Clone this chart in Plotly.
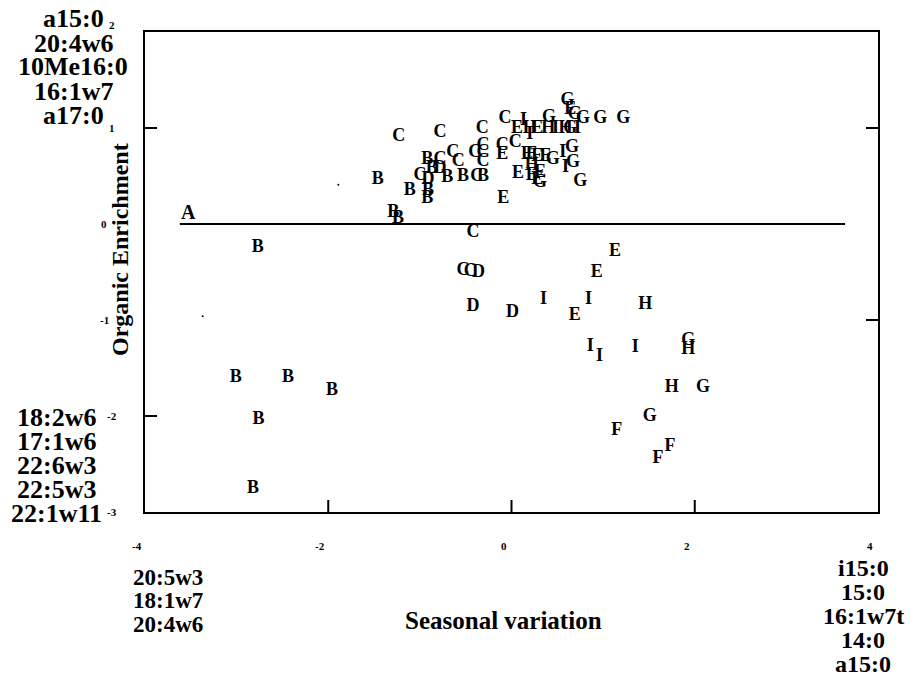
import plotly.graph_objects as go

# ---------------- data ----------------
B_x = [-2.77, -3.01, -2.44, -1.96, -2.76, -2.82, -1.46, -1.29, -1.24, -1.11, -0.92, -0.87, -0.91, -0.92, -0.70, -0.53, -0.31]
B_y = [-0.24, -1.60, -1.60, -1.73, -2.04, -2.75, 0.46, 0.125, 0.06, 0.35, 0.67, 0.58, 0.35, 0.27, 0.48, 0.49, 0.49]

C_x = [-1.23, -0.78, -0.32, -0.07, -0.78, -0.64, -0.58, -1.00, -0.40, -0.31, -0.31, -0.31, -0.38, -0.10, 0.04, -0.42, -0.53, -0.45]
C_y = [0.91, 0.95, 0.99, 1.10, 0.67, 0.74, 0.65, 0.51, 0.75, 0.82, 0.74, 0.65, 0.49, 0.82, 0.85, -0.09, -0.48, -0.49]

D_x = [-0.78, -0.91, -0.36, -0.42, 0.01]
D_y = [0.58, 0.46, -0.50, -0.86, -0.92]

E_x = [0.06, -0.10, 0.17, 0.22, 0.28, 0.37, 0.07, 0.22, 0.31, 0.28, -0.09, 1.13, 0.93, 0.69, 0.64, 0.28]
E_y = [1.00, 0.72, 0.72, 0.72, 0.70, 0.70, 0.53, 0.51, 0.54, 0.46, 0.27, -0.29, -0.51, -0.95, 1.19, 1.00]

F_x = [1.15, 1.73, 1.60]
F_y = [-2.15, -2.32, -2.44]

G_x = [0.61, 0.41, 0.78, 0.97, 1.22, 0.66, 0.67, 0.45, 0.31, 0.75, 0.64, 1.93, 2.09, 1.51, 0.69]
G_y = [1.29, 1.11, 1.10, 1.10, 1.10, 0.80, 0.64, 0.67, 0.43, 0.44, 1.00, -1.21, -1.70, -2.01, 1.14]

H_x = [1.46, 1.93, 1.75, 0.22, 0.20, 0.40, 0.59]
H_y = [-0.84, -1.31, -1.70, 0.61, 1.00, 1.00, 1.00]

I_x = [0.13, 0.20, 0.56, 0.59, 0.72, 0.48, 0.35, 0.84, 0.86, 0.96, 1.35]
I_y = [1.08, 0.93, 0.74, 0.59, 1.00, 1.00, -0.79, -0.79, -1.28, -1.38, -1.29]

speck_x = [-1.89, -3.37]
speck_y = [0.41, -0.96]

baseline_x = [-3.62, 3.64]
baseline_label = "A"

x_ticks = [-2, 0, 2]
y_ticks_left = [1, -2]
y_ticks_right = [1, -1]
x_tick_labels = [-4, -2, 0, 2, 4]
y_tick_labels = [2, 1, 0, -1, -2, -3]

top_left_labels = ["a15:0", "20:4w6", "10Me16:0", "16:1w7", "a17:0"]
bottom_left_labels = ["18:2w6", "17:1w6", "22:6w3", "22:5w3", "22:1w11"]
lower_left_labels = ["20:5w3", "18:1w7", "20:4w6"]
lower_right_labels = ["i15:0", "15:0", "16:1w7t", "14:0", "a15:0"]

x_title = "Seasonal variation"
y_title = "Organic Enrichment"

# ---------------- layout geometry ----------------
W, H = 911, 681
L, R, T, B = 145, 878, 32, 512


def px(x):
    return (x - L) / (R - L)


def py(y):
    return (B - y) / (B - T)


SERIF = "Liberation Serif"
BLACK = "black"


def bold(size):
    return dict(family=SERIF, size=size, color=BLACK, weight="bold")


groups = [("B", B_x, B_y), ("C", C_x, C_y), ("D", D_x, D_y), ("E", E_x, E_y),
          ("F", F_x, F_y), ("G", G_x, G_y), ("H", H_x, H_y), ("I", I_x, I_y)]

fig = go.Figure()
for letter, xs, ys in groups:
    fig.add_trace(go.Scatter(
        x=xs, y=ys, mode="text", text=[letter] * len(xs),
        textposition="middle center", textfont=bold(18),
        showlegend=False, hoverinfo="skip", cliponaxis=False))

fig.add_trace(go.Scatter(x=speck_x, y=speck_y, mode="markers",
                         marker=dict(size=2, color=BLACK), showlegend=False, hoverinfo="skip"))

shapes = []
shapes.append(dict(type="line", xref="x", yref="y", x0=baseline_x[0], x1=baseline_x[1], y0=0, y1=0,
                   line=dict(color=BLACK, width=2)))
tl = 12
for v in y_ticks_left:
    shapes.append(dict(type="line", xref="paper", yref="y", x0=0, x1=tl / (R - L), y0=v, y1=v,
                       line=dict(color=BLACK, width=2)))
for v in y_ticks_right:
    shapes.append(dict(type="line", xref="paper", yref="y", x0=1, x1=1 - tl / (R - L), y0=v, y1=v,
                       line=dict(color=BLACK, width=2)))
for v in x_ticks:
    shapes.append(dict(type="line", xref="x", yref="paper", x0=v, x1=v, y0=0, y1=tl / (B - T),
                       line=dict(color=BLACK, width=2)))

ann = []
ann.append(dict(x=-3.53, y=0.125, xref="x", yref="y", text=baseline_label, showarrow=False,
                font=bold(20)))

for i, t in enumerate(top_left_labels):
    ann.append(dict(x=px(73), y=py(19 + 24 * i), xref="paper", yref="paper", text=t,
                    showarrow=False, font=bold(26), xanchor="center", yanchor="middle"))
for i, t in enumerate(bottom_left_labels):
    ann.append(dict(x=px(56), y=py(417 + 24 * i), xref="paper", yref="paper", text=t,
                    showarrow=False, font=bold(26), xanchor="center", yanchor="middle"))
for i, t in enumerate(lower_left_labels):
    ann.append(dict(x=px(168), y=py(577 + 23.5 * i), xref="paper", yref="paper", text=t,
                    showarrow=False, font=bold(23), xanchor="center", yanchor="middle"))
for i, t in enumerate(lower_right_labels):
    ann.append(dict(x=px(863), y=py(568 + 24 * i), xref="paper", yref="paper", text=t,
                    showarrow=False, font=bold(24), xanchor="center", yanchor="middle"))

ann.append(dict(x=px(503), y=py(620), xref="paper", yref="paper", text=x_title, showarrow=False,
                font=bold(25), xanchor="center", yanchor="middle"))
ann.append(dict(x=px(120), y=py(250), xref="paper", yref="paper", text=y_title, showarrow=False,
                textangle=-90, font=bold(24), xanchor="center", yanchor="middle"))

for v in y_tick_labels:
    xpos = 104 if v in (0, -1) else 112
    ann.append(dict(x=px(xpos), y=v, xref="paper", yref="y", text=str(v), showarrow=False,
                    font=bold(11), xanchor="center", yanchor="middle",
                    yshift=7 if v == 2 else 0))
for v in x_tick_labels:
    ann.append(dict(x=v, y=py(546), xref="x", yref="paper", text=str(v), showarrow=False,
                    font=bold(11), xanchor="center", yanchor="middle", xshift=-8))

fig.update_layout(
    width=W, height=H,
    margin=dict(l=L, r=W - R, t=T, b=H - B, pad=0),
    plot_bgcolor="white", paper_bgcolor="white",
    xaxis=dict(range=[-4, 4], showgrid=False, zeroline=False, showticklabels=False, ticks="",
               showline=True, mirror=True, linecolor=BLACK, linewidth=2, fixedrange=True),
    yaxis=dict(range=[-3, 2], showgrid=False, zeroline=False, showticklabels=False, ticks="",
               showline=True, mirror=True, linecolor=BLACK, linewidth=2, fixedrange=True),
    shapes=shapes, annotations=ann, showlegend=False,
)

fig.write_html("out.html")
